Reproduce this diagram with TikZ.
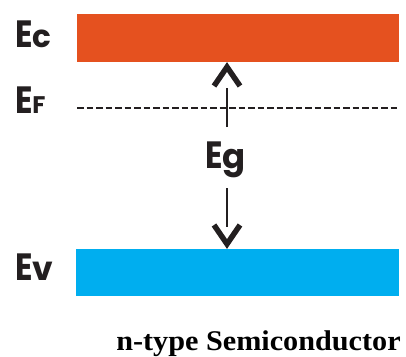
\documentclass[tikz,border=0pt]{standalone}
\usepackage{fontspec}
\setmainfont{Liberation Serif}
\newfontfamily\labfont{Poppins}
\definecolor{cbcol}{HTML}{E5511F}
\definecolor{vbcol}{HTML}{00AEEF}
\definecolor{ink}{HTML}{231F20}
\newcommand\lsub[2]{{\fontsize{#1}{#1}\selectfont #2}}
\begin{document}
\begin{tikzpicture}[x=1pt,y=-1pt,
  band/.style={draw=none, inner sep=0pt, outer sep=0pt},
  lab/.style={inner sep=0pt, outer sep=0pt, anchor=base west, text=ink,
    font=\labfont\bfseries\fontsize{38}{38}\selectfont},
  fermi/.style={draw=ink, line width=2.2pt, dash pattern=on 6.5pt off 3pt},
  shaft/.style={draw=ink, line width=2pt},
  chev/.style={draw=ink, line width=5.5pt, line join=miter},
  captxt/.style={inner sep=0pt, anchor=base, font=\bfseries\fontsize{28.5}{28.5}\selectfont}]
\useasboundingbox (0,0) rectangle (406,356);
% bands
\node[band, fill=cbcol, minimum width=322pt, minimum height=48pt] (cband) at (238,38) {};
\node[band, fill=vbcol, minimum width=323pt, minimum height=47pt] (vband) at (237.5,272.5) {};
% labels
\node[lab] (Ec) at (15,47) {\scalebox{0.85}[1]{E}\lsub{31}{c}};
\node[lab] (Ef) at (15,113) {\scalebox{0.85}[1]{E}\lsub{24}{F}};
\node[lab] (Ev) at (15,280) {\scalebox{0.85}[1]{E}\lsub{33}{v}};
\node[lab] (Eg) at (205,168) {\scalebox{0.85}[1]{E}\lsub{34}{g}};
% Fermi level
\coordinate (fl) at (77,108);
\coordinate (fr) at (399,108);
\draw[fermi] (fl) -- (fr);
% gap arrows
\coordinate (upTip) at (227,67);
\coordinate (upA) at (227,88);
\coordinate (upB) at (227,127);
\coordinate (dnA) at (227,188);
\coordinate (dnB) at (227,227);
\coordinate (dnTip) at (227,244);
\draw[shaft] (upB) -- (upA);
\draw[chev] ([xshift=-13pt,yshift=-19pt]upTip) -- (upTip) -- ([xshift=13pt,yshift=-19pt]upTip);
\draw[shaft] (dnA) -- (dnB);
\draw[chev] ([xshift=-13pt,yshift=19pt]dnTip) -- (dnTip) -- ([xshift=13pt,yshift=19pt]dnTip);
% caption
\node[captxt] (title) at (258.5,350) {\scalebox{1.06}[1]{n-type Semiconductor}};
\end{tikzpicture}
\end{document}
